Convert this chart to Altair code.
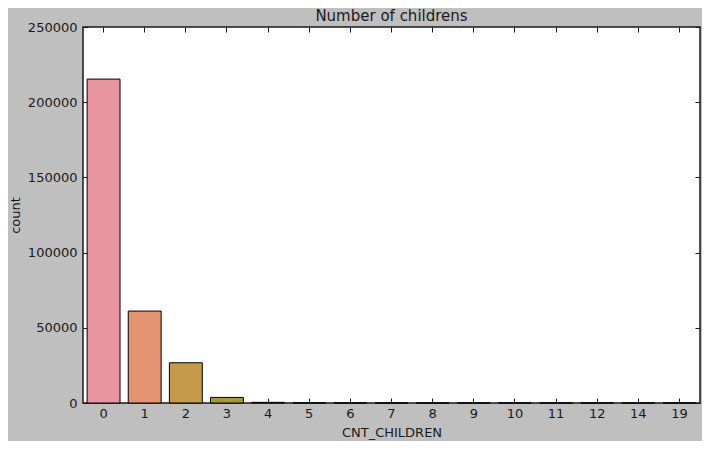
import altair as alt
import pandas as pd

# valores (countplot de CNT_CHILDREN)
children = ["0", "1", "2", "3", "4", "5", "6", "7", "8", "9", "10", "11", "12", "14", "19"]
counts = [215371, 61119, 26749, 3717, 429, 84, 21, 7, 2, 2, 2, 1, 2, 3, 2]
y_ticks = [0, 50000, 100000, 150000, 200000, 250000]
bar_colors = ["#e8959f", "#e59470", "#c59a4a", "#a59a3d", "#8da03d", "#5ea84a",
              "#4aa87a", "#4aa493", "#4ba2a3", "#4ea0b5", "#5a9bcb", "#8e90d8",
              "#b58ad8", "#d584cc", "#e08ab4"]

df = pd.DataFrame({"CNT_CHILDREN": children, "count": counts})

FONT = "DejaVu Sans"
W, H = 617, 376

x_scale = alt.Scale(domain=children, paddingInner=0.2, paddingOuter=0.1)
y_scale = alt.Scale(domain=[0, 250000], nice=False)
color_scale = alt.Scale(domain=children, range=bar_colors)

# barras com eixos de baixo e da esquerda (ticks para dentro via offset)
bars = alt.Chart(df).mark_bar(stroke="black", strokeWidth=1).encode(
    x=alt.X("CNT_CHILDREN:N", sort=children, scale=x_scale,
            axis=alt.Axis(orient="bottom", offset=-5, tickSize=5, domain=False,
                          labelAngle=0, labelPadding=4, title="CNT_CHILDREN",
                          titleX=W / 2, titleY=34, titleAlign="center",
                          titleBaseline="middle")),
    y=alt.Y("count:Q", scale=y_scale,
            axis=alt.Axis(orient="left", offset=-5, tickSize=5, domain=False,
                          values=y_ticks, format="d", labelPadding=6,
                          title="count", titleX=-73, titleY=H / 2,
                          titleAngle=-90, titleAlign="center",
                          titleBaseline="middle")),
    color=alt.Color("CNT_CHILDREN:N", scale=color_scale, legend=None),
)

# mesma camada, so para os ticks de cima e da direita
frame = alt.Chart(df).mark_bar(opacity=0).encode(
    x=alt.X("CNT_CHILDREN:N", sort=children, scale=x_scale,
            axis=alt.Axis(orient="top", offset=-5, tickSize=5, domain=False,
                          labels=False, title=None, minExtent=0)),
    y=alt.Y("count:Q", scale=y_scale,
            axis=alt.Axis(orient="right", offset=-5, tickSize=5, domain=False,
                          values=y_ticks, labels=False, title=None, minExtent=0)),
)

chart = alt.layer(bars, frame).resolve_axis(x="independent", y="independent").properties(
    width=W,
    height=H,
    background="#bfbfbf",
    padding={"left": 75, "top": 19, "right": 2, "bottom": 38},
    autosize=alt.AutoSizeParams(type="none"),
    title=alt.TitleParams("Number of childrens", font=FONT, fontSize=15,
                          fontWeight="normal", color="#1a1a1a", offset=5,
                          baseline="alphabetic", dy=20),
).configure_view(
    fill="white", stroke="#1a1a1a", strokeWidth=1.5
).configure_axis(
    labelFont=FONT, labelFontSize=13, labelColor="#1a1a1a",
    titleFont=FONT, titleFontSize=13, titleColor="#1a1a1a", titleFontWeight="normal",
    tickColor="#1a1a1a", grid=False,
)

chart.save("out.html", embed_options={"renderer": "svg", "actions": False})
